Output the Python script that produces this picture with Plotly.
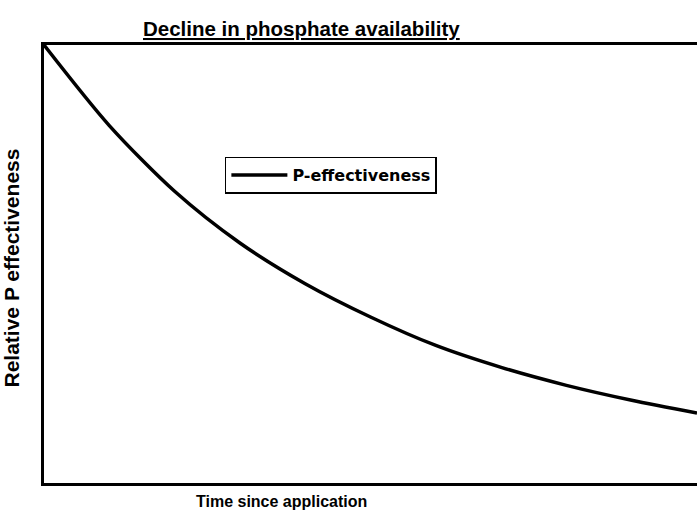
import plotly.graph_objects as go

# Data (arbitrary units)
time_since_application = [0, 1, 2, 3, 4, 5, 6, 7, 8, 9, 10]
p_effectiveness = [100, 81.6, 66.6, 54.8, 45.5, 37.9, 31.4, 26.4, 22.3, 18.9, 16.0]

series_name = "P-effectiveness"
chart_title = "Decline in phosphate availability"
x_title = "Time since application"
y_title = "Relative P effectiveness"

FONT = "Liberation Sans, Arial, sans-serif"

fig = go.Figure()
fig.add_trace(go.Scatter(
    x=time_since_application, y=p_effectiveness,
    mode="lines", name=series_name,
    line=dict(color="black", width=3.5, shape="spline", smoothing=0.8),
))

fig.update_layout(
    width=697, height=513,
    margin=dict(l=44, r=0, t=45, b=30),
    paper_bgcolor="white", plot_bgcolor="white",
    showlegend=True,
    legend=dict(
        x=0.277, y=0.745, xanchor="left", yanchor="top",
        bordercolor="black", borderwidth=1.5, bgcolor="white",
        font=dict(family="DejaVu Sans, sans-serif", size=16, color="black", weight="bold"),
        tracegroupgap=0, itemwidth=56,
    ),
    xaxis=dict(range=[0, 10], showgrid=False, zeroline=False, showticklabels=False,
               ticks="", showline=True, linecolor="black", linewidth=3, mirror=True),
    yaxis=dict(range=[0, 100], showgrid=False, zeroline=False, showticklabels=False,
               ticks="", showline=True, linecolor="black", linewidth=3, mirror=False),
    annotations=[
        dict(text="<u>" + chart_title + "</u>", xref="paper", yref="paper",
             x=(301 - 44) / 653, y=1.0, xanchor="center", yanchor="bottom", yshift=3,
             showarrow=False, font=dict(family=FONT, size=20.5, color="black", weight="bold")),
        dict(text=x_title, xref="paper", yref="paper",
             x=(281 - 44) / 653, y=0, xanchor="center", yanchor="top", yshift=-8,
             showarrow=False, font=dict(family=FONT, size=16, color="black", weight="bold")),
        dict(text=y_title, xref="paper", yref="paper", textangle=-90,
             x=0, y=(483 - 268) / 438, xanchor="right", yanchor="middle", xshift=-20,
             showarrow=False, font=dict(family=FONT, size=21, color="black", weight="bold")),
    ],
)

fig.write_html("out.html", config={"displayModeBar": False},
               post_script="document.body.style.margin='0';")
